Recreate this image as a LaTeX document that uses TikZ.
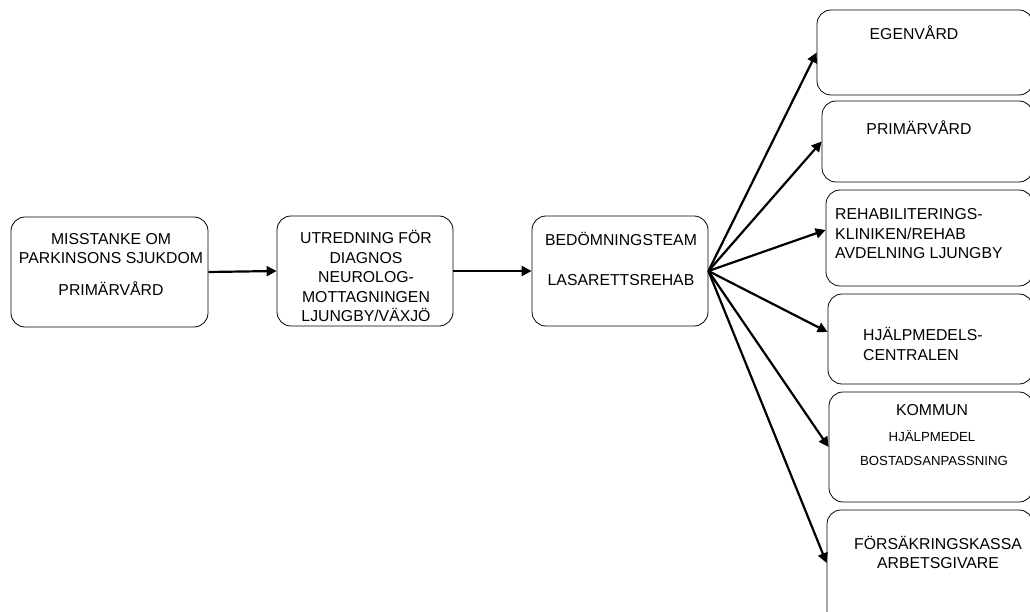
\documentclass[tikz,border=0pt]{standalone}
\usepackage{fontspec}
\setmainfont{Liberation Sans}
\usetikzlibrary{arrows.meta}
\newcommand\smalltxt{\fontsize{13.2}{16}\selectfont}
\begin{document}
\begin{tikzpicture}[x=1pt,y=-1pt,
  box/.style={draw,line width=0.8pt,rounded corners=14pt,inner sep=0pt},
  txt/.style={font=\fontsize{15.8}{19.5}\selectfont,align=center,inner sep=0pt},
  flow/.style={line width=2.2pt,-{Triangle[length=10pt,width=10pt]}}]
\useasboundingbox (0,0) rectangle (1030,612);
\clip (0,0) rectangle (1030,612);
\node[box,minimum width=197pt,minimum height=110pt] (misstanke) at (109.5,272) {};
\node[box,minimum width=176pt,minimum height=110pt] (utredning) at (365,271) {};
\node[box,minimum width=176pt,minimum height=110pt] (bedomning) at (620,271) {};
\node[box,minimum width=216pt,minimum height=85pt] (egen) at (925,52.5) {};
\node[box,minimum width=211pt,minimum height=81pt] (prim) at (927.5,141.5) {};
\node[box,minimum width=207pt,minimum height=96pt] (rehab) at (929.5,238) {};
\node[box,minimum width=205pt,minimum height=90pt] (hjalp) at (930.5,339) {};
\node[box,minimum width=204pt,minimum height=110pt] (kommun) at (931,447) {};
\node[box,minimum width=206pt,minimum height=130pt] (forsak) at (930,575) {};
\node[txt] (misstanke-t) at (111,264) {MISSTANKE OM\\PARKINSONS SJUKDOM\\[12pt]PRIMÄRVÅRD};
\node[txt] (utredning-t) at (366,276) {UTREDNING FÖR\\DIAGNOS\\NEUROLOG-\\MOTTAGNINGEN\\LJUNGBY/VÄXJÖ};
\node[txt] (bedomning-t) at (621,259) {BEDÖMNINGSTEAM\\[21pt]LASARETTSREHAB};
\node[txt] (egen-t) at (914,33) {EGENVÅRD};
\node[txt] (prim-t) at (919,128) {PRIMÄRVÅRD};
\node[txt,align=left,anchor=west] (rehab-t) at (835,234) {REHABILITERINGS-\\KLINIKEN/REHAB\\AVDELNING LJUNGBY};
\node[txt,align=left,anchor=west] (hjalp-t) at (863,344) {HJÄLPMEDELS-\\CENTRALEN};
\node[txt] (kommun-t) at (932,410) {KOMMUN};
\node[txt,font=\smalltxt] (kommun-a) at (932,436) {HJÄLPMEDEL};
\node[txt,font=\smalltxt] (kommun-b) at (934,461) {BOSTADSANPASSNING};
\node[txt] (forsak-t) at (938,552.5) {FÖRSÄKRINGSKASSA\\ARBETSGIVARE};
\draw[flow] (misstanke.east) -- (utredning.west);
\draw[flow] (utredning.east) -- (bedomning.west);
\draw[flow] (bedomning.east) -- (egen.west);
\draw[flow] (bedomning.east) -- (prim.west);
\draw[flow] (bedomning.east) -- ([yshift=8pt]rehab.west);
\draw[flow] (bedomning.east) -- ([yshift=7pt]hjalp.west);
\draw[flow] (bedomning.east) -- (kommun.west);
\draw[flow] (bedomning.east) -- ([yshift=12pt]forsak.west);
\end{tikzpicture}
\end{document}
